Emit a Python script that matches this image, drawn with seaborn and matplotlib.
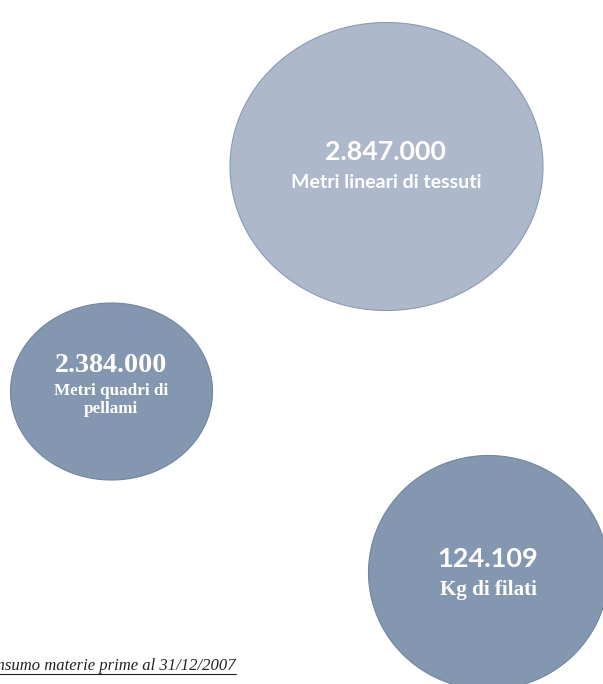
import numpy as np
import pandas as pd
import matplotlib
matplotlib.use("Agg")
import matplotlib.pyplot as plt
from matplotlib.path import Path
import seaborn as sns

# ---- data ----
values = ["2.847.000", "2.384.000", "124.109"]
labels = ["Metri lineari di tessuti", "Metri quadri di\npellami", "Kg di filati"]
caption = "Consumo materie prime al 31/12/2007"

# ---- layout (pixels) ----
cx = [386, 111, 488]
cy = [166, 391, 572]
rx = [156.5, 101, 120]
ry = [144, 88.5, 117]
fills = ["#adb9cb", "#8497b0", "#8497b0"]
edges = ["#8a9bb5", "#72849f", "#72849f"]

sns.set_theme(style="white")
W, H, DPI = 603, 684, 100
fig = plt.figure(figsize=(W / DPI, H / DPI), dpi=DPI)
ax = fig.add_axes([0, 0, 1, 1])
ax.set_xlim(0, W)
ax.set_ylim(H, 0)
ax.axis("off")

df = pd.DataFrame({"x": cx, "y": cy, "value": values, "label": labels})

t = np.linspace(0, 2 * np.pi, 240)
for i in range(len(df)):
    verts = np.column_stack([np.cos(t), (ry[i] / rx[i]) * np.sin(t)])
    marker = Path(verts, closed=True)
    s = (2 * rx[i] * 72 / DPI) ** 2
    sns.scatterplot(data=df.iloc[[i]], x="x", y="y", marker=marker, s=s,
                    color=fills[i], edgecolor=edges[i], linewidth=0.8,
                    ax=ax, legend=False, zorder=2)

sans = ["Lato", "DejaVu Sans"]
serif = ["Liberation Serif", "DejaVu Serif"]


def put(x, y, txt, size, fam):
    ax.text(x, y, txt, ha="center", va="baseline", color="white",
            fontsize=size, fontweight="bold", family=fam, zorder=3)


# big bubble
put(cx[0], 160, values[0], 19.3, sans)
put(cx[0], 188, labels[0], 14, sans)
# left bubble
put(cx[1], 372, values[1], 20.2, serif)
for k, line in enumerate(labels[1].split("\n")):
    put(cx[1], 395 + 18 * k, line, 12.3, serif)
# bottom bubble
put(cx[2], 567, values[2], 19.5, sans)
put(cx[2], 595, labels[2], 15.2, serif)

# caption (cut at left edge, underlined)
cap = ax.text(236, 670.5, caption, ha="right", va="baseline", color="#222222",
              fontsize=12, fontstyle="italic", family=serif, zorder=3)
fig.canvas.draw()
bb = cap.get_window_extent(renderer=fig.canvas.get_renderer())
inv = ax.transData.inverted()
(x0, _), (x1, _) = inv.transform([[bb.x0, bb.y0], [bb.x1, bb.y0]])
ax.plot([x0, x1], [674, 674], color="#222222", lw=0.8, zorder=3)

fig.savefig("out.png", dpi=DPI)
